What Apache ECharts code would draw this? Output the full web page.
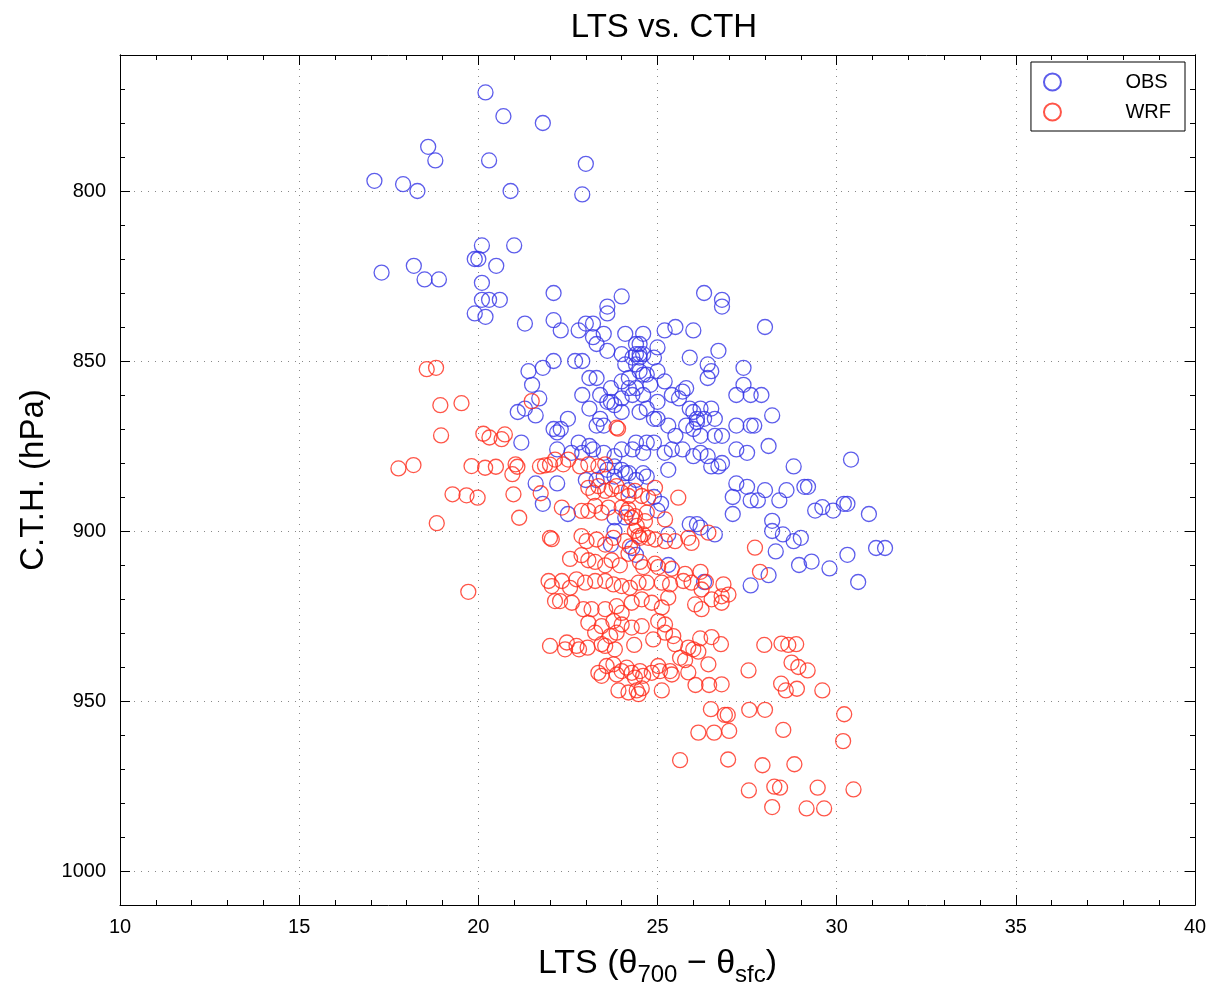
<!DOCTYPE html>
<html>
<head>
<meta charset="utf-8">
<title>LTS vs. CTH</title>
<script src="https://cdn.jsdelivr.net/npm/echarts@6/dist/echarts.min.js"></script>
<style>
  html, body { margin: 0; padding: 0; background: #fff; }
  #chart1 { width: 1213px; height: 982px; }
</style>
</head>
<body>
<div id="chart1"></div>
<script>
// OBS: LTS (K) and cloud top height (hPa)
var obsLts = [
  20.2, 20.7, 21.8, 18.6, 18.8, 20.3, 23.0, 17.1, 17.9, 18.3,
  20.9, 22.9, 20.1, 21.0, 19.9, 20.0, 17.3, 18.2, 18.5, 18.9,
  20.5, 20.1, 20.1, 20.3, 20.6, 19.9, 20.2, 21.3, 22.1, 22.1,
  21.4, 21.8, 22.1, 21.5, 21.7, 21.1, 21.3, 21.6, 22.1, 21.2,
  24.0, 26.3, 26.8, 26.8, 23.6, 23.6, 23.0, 23.2, 22.8, 22.3,
  23.2, 23.5, 23.3, 24.1, 24.6, 25.2, 25.5, 26.0, 24.4, 24.5,
  25.0, 23.6, 26.7, 24.4, 24.5, 24.6, 24.3, 24.5, 24.9, 24.0,
  25.9, 22.7, 22.9, 26.4, 26.5, 26.4, 27.4, 27.4, 27.6, 27.2,
  24.1, 24.4, 24.5, 24.6, 24.7, 25.0, 23.1, 23.3, 24.2, 24.0,
  25.2, 25.8, 25.7, 23.7, 23.4, 22.9, 24.2, 24.4, 24.8, 24.6,
  23.7, 23.8, 23.6, 24.0, 24.3, 25.4, 25.6, 25.9, 26.0, 26.2,
  26.5, 26.1, 26.6, 23.1, 23.4, 23.3, 23.5, 24.5, 24.7, 25.0,
  24.9, 25.0, 22.5, 22.3, 22.2, 24.0, 25.3, 25.5, 25.8, 26.0,
  26.1, 26.3, 26.2, 26.6, 26.8, 27.2, 27.6, 22.8, 23.1, 24.4,
  24.7, 24.9, 28.0, 27.9, 28.2, 27.7, 28.1, 22.2, 25.2, 25.4,
  25.7, 26.0, 26.2, 26.4, 26.5, 26.7, 26.8, 27.2, 27.5, 25.3,
  27.2, 27.5, 27.1, 27.1, 27.6, 25.9, 26.1, 26.2, 26.6, 25.3,
  25.3, 26.3, 27.6, 23.0, 23.3, 23.5, 23.8, 24.1, 24.2, 24.4,
  24.6, 24.7, 22.2, 23.6, 23.8, 24.0, 24.2, 24.9, 25.1, 25.0,
  22.5, 23.8, 24.1, 23.8, 23.7, 24.3, 24.4, 22.6, 22.9, 23.2,
  23.5, 23.8, 24.0, 24.3, 24.6, 21.6, 21.8, 30.4, 28.8, 28.0,
  28.6, 28.4, 29.1, 29.2, 27.8, 29.4, 29.6, 29.9, 30.2, 30.3,
  30.9, 28.2, 28.2, 28.5, 28.8, 29.0, 31.1, 31.35, 30.3, 28.3,
  28.95, 29.3, 29.8, 28.1, 30.6
];
var obsCth = [
  771, 778, 780, 787, 791, 791, 792, 797, 798, 800,
  800, 801, 816, 816, 820, 820, 824, 822, 826, 826,
  822, 827, 832, 832, 832, 836, 837, 839, 830, 838,
  853, 852, 850, 857, 861, 865, 864, 866, 870, 874,
  831, 830, 832, 834, 834, 836, 839, 839, 841, 841,
  843, 842, 845, 842, 842, 841, 840, 841, 845, 845,
  846, 847, 847, 848, 848, 848, 849, 849, 849, 848,
  849, 850, 850, 851, 853, 855, 852, 857, 860, 860,
  851, 851, 853, 854, 854, 853, 855, 855, 855, 856,
  856, 858, 859, 858, 860, 860, 858, 858, 857, 860,
  862, 863, 862, 861, 860, 860, 861, 864, 865, 864,
  864, 867, 867, 864, 867, 869, 869, 865, 864, 862,
  867, 867, 867, 870, 871, 865, 869, 872, 869, 870,
  868, 867, 872, 872, 872, 869, 869, 874, 875, 874,
  874, 874, 840, 860, 866, 869, 875, 876, 877, 876,
  876, 878, 877, 878, 881, 881, 880, 876, 877, 882,
  886, 887, 890, 895, 891, 898, 898, 899, 901, 901,
  910, 915, 916, 885, 885, 884, 884, 883, 883, 885,
  883, 884, 886, 882, 881, 882, 888, 890, 892, 894,
  895, 896, 896, 900, 904, 905, 907, 877, 877, 876,
  877, 878, 876, 876, 877, 886, 892, 879, 881, 888,
  888, 891, 887, 887, 891, 894, 893, 894, 892, 892,
  895, 897, 900, 901, 903, 902, 905, 905, 907, 906,
  910, 909, 911, 913, 915
];

// WRF
var wrfLts = [
  18.56, 18.82, 18.94, 19.53, 21.49, 18.96, 20.14, 20.31, 20.74, 20.65,
  17.77, 18.19, 19.81, 20.19, 20.49, 21.04, 21.09, 20.95, 21.72, 21.86,
  22.0, 21.74, 19.28, 19.67, 19.98, 20.98, 21.14, 18.84, 22.0, 22.05,
  19.72, 21.96, 22.05, 22.14, 22.0, 23.86, 23.9, 22.14, 22.37, 22.51,
  22.84, 23.07, 23.35, 23.54, 23.07, 23.21, 23.35, 23.54, 23.72, 23.86,
  24.0, 24.19, 24.37, 24.56, 24.74, 24.93, 25.58, 22.33, 22.88, 23.07,
  23.26, 23.44, 23.63, 24.0, 24.14, 24.28, 24.19, 24.37, 24.70, 24.65,
  25.21, 24.42, 24.37, 24.47, 24.51, 24.60, 22.88, 23.02, 23.30, 23.54,
  23.77, 24.09, 24.23, 24.74, 24.93, 25.21, 25.49, 25.86, 25.95, 26.42,
  22.56, 22.88, 23.07, 23.26, 23.54, 23.72, 23.95, 24.19, 24.51, 24.60,
  24.93, 25.02, 25.40, 25.77, 22.33, 22.56, 22.74, 22.98, 23.26, 23.54,
  23.77, 24.0, 24.23, 24.47, 24.70, 25.12, 25.35, 25.72, 25.95, 26.23,
  26.84, 26.98, 26.79, 26.2, 26.35, 22.28, 22.61, 22.93, 23.16, 23.54,
  23.86, 24.0, 24.28, 24.56, 24.84, 25.12, 25.30, 26.05, 26.23, 26.51,
  26.79, 23.07, 23.44, 23.77, 24.0, 24.28, 24.56, 25.02, 25.21, 22.47,
  22.42, 22.74, 22.81, 23.05, 23.26, 23.44, 23.54, 23.68, 23.86, 23.81,
  24.35, 24.88, 25.21, 25.44, 25.49, 25.86, 26.0, 26.14, 26.19, 26.51,
  26.77, 25.63, 25.77, 26.42, 23.35, 23.44, 23.58, 23.77, 23.86, 24.0,
  24.14, 24.28, 24.37, 24.51, 24.60, 24.84, 25.02, 25.07, 25.35, 25.40,
  25.86, 23.91, 24.19, 24.42, 24.47, 24.56, 25.12, 26.06, 26.44, 26.79,
  27.54, 26.49, 26.88, 26.96, 26.14, 26.58, 27.0, 25.63, 26.97, 27.56,
  27.55, 27.98, 28.46, 28.65, 28.87, 28.74, 28.93, 29.19, 28.45, 28.58,
  28.89, 29.6, 28.0, 30.21, 28.51, 30.18, 27.93, 28.82, 28.26, 28.42,
  29.47, 30.47, 28.20, 29.16, 29.65, 27.72, 27.86
];
var wrfCth = [
  852.4, 852, 863, 862.4, 861.8, 871.9, 871.4, 872.5, 871.6, 873,
  881.6, 880.6, 880.9, 881.4, 881.1, 880.4, 881.1, 883.3, 881, 880.7,
  880.5, 888.9, 889.2, 889.5, 890.2, 889.2, 896.1, 897.7, 902, 902.4,
  917.9, 914.7, 916.2, 920.6, 933.8, 869.6, 869.9, 879, 880.4, 879,
  881, 880.4, 881, 880.4, 887.3, 888.7, 886.8, 888.2, 887.7, 886.8,
  888.7, 889.7, 888.2, 889.7, 890.2, 887.3, 890.2, 893.1, 894.1, 894.1,
  892.6, 894.6, 893.1, 893.1, 894.6, 896.1, 893.6, 895.6, 894.6, 897.1,
  896.6, 898.5, 900, 901.5, 902, 901, 901.5, 903, 902.5, 904,
  902, 903, 904.5, 902, 902.5, 903, 903, 902, 903.5, 900.5,
  908.2, 907.1, 908.6, 909.1, 910.1, 908.6, 910.1, 906.7, 909.1, 910.6,
  909.6, 910.6, 911.1, 912.6, 914.7, 916.7, 914.2, 915.2, 914.7, 914.7,
  915.7, 916.2, 916.7, 915.2, 915.2, 915.2, 915.7, 914.7, 915.2, 917.2,
  915.7, 918.7, 919.2, 912, 915, 920.6, 921.1, 923, 923, 923,
  922.1, 924.1, 921.1, 920.1, 921.1, 922.5, 919.6, 921.6, 923, 920.1,
  921.1, 927, 928, 926.5, 927.5, 928.4, 928, 926.5, 927.5, 932.8,
  934.8, 933.8, 934.8, 934.3, 929.9, 933.3, 933.8, 930.9, 929.9, 934.8,
  933.5, 931.9, 929.9, 930.9, 933.3, 934.3, 934.8, 935.5, 931.6, 931.2,
  933.3, 937.3, 938, 939.2, 941.7, 942.6, 939.7, 939.2, 942.2, 941.2,
  940.2, 941.7, 943.1, 941.2, 942.6, 941.7, 939.7, 941.2, 941.2, 942.2,
  941.6, 946.9, 947.5, 946.9, 948, 946.3, 946.9, 945.3, 945.3, 945.1,
  941, 952.4, 954.1, 954.1, 959.3, 959.3, 958.8, 967.4, 967.2, 952.6,
  976.3, 933.5, 933.1, 933.5, 933.3, 938.7, 940, 941, 944.9, 946.9,
  946.4, 946.9, 952.6, 953.9, 958.5, 961.8, 968.9, 968.6, 975.2, 975.5,
  975.5, 976, 981.2, 981.6, 981.6, 904.9, 912
];

var yTicks = [800, 850, 900, 950, 1000];

function pairs(xs, ys) {
  var out = [];
  for (var i = 0; i < xs.length; i++) out.push([xs[i], ys[i]]);
  return out;
}

var myChart = echarts.init(document.getElementById('chart1'));
var font = 'Liberation Sans';
var black = '#000';

var xBase = {
  type: 'value', min: 10, max: 40, interval: 5,
  axisLine: { show: true, onZero: false, lineStyle: { color: black, width: 1 } },
  axisTick: { show: true, inside: true, length: 10, lineStyle: { color: black } },
  minorTick: { show: true, splitNumber: 5, length: 5, lineStyle: { color: black } }
};
var yBase = {
  type: 'value', inverse: true, min: 760, max: 1010,
  axisLine: { show: true, onZero: false, lineStyle: { color: black, width: 1 } }
};

var option = {
  animation: false,
  backgroundColor: '#fff',
  title: {
    text: 'LTS vs. CTH', left: 659, top: 6, textAlign: 'center',
    textStyle: { fontFamily: font, fontSize: 33, fontWeight: 'normal', color: black }
  },
  legend: {
    orient: 'vertical', right: 28, top: 62,
    data: ['OBS', 'WRF'],
    icon: 'circle',
    itemWidth: 20, itemHeight: 17, itemGap: 10,
    padding: [10, 14, 9, 12],
    borderColor: black, borderWidth: 1,
    textStyle: { fontFamily: font, fontSize: 20, color: black, padding: [0, 0, 0, 58] }
  },
  grid: { left: 120, right: 18, top: 55, bottom: 77, outerBoundsMode: 'none', containLabel: false },
  xAxis: [
    Object.assign({}, xBase, {
      position: 'bottom',
      name: 'LTS (θ{sub|700} − θ{sub|sfc})',
      nameLocation: 'middle', nameGap: 36,
      nameTextStyle: {
        fontFamily: font, fontSize: 34, color: black,
        rich: { sub: { fontFamily: font, fontSize: 24, color: black, padding: [22, 0, 0, 0] } }
      },
      axisLabel: { fontFamily: font, fontSize: 20, color: black, margin: 12 },
      splitLine: { show: true, lineStyle: { color: '#888', type: [1, 6], width: 1 } }
    }),
    Object.assign({}, xBase, {
      position: 'top',
      axisLabel: { show: false },
      splitLine: { show: false }
    })
  ],
  yAxis: [
    Object.assign({}, yBase, {
      position: 'left',
      name: 'C.T.H. (hPa)',
      nameLocation: 'middle', nameGap: 68, nameRotate: 90,
      nameTextStyle: { fontFamily: font, fontSize: 33, color: black },
      axisLabel: {
        customValues: yTicks, fontFamily: font, fontSize: 20, color: black, margin: 14,
        formatter: function (v) { return String(v); }
      },
      axisTick: { show: true, customValues: yTicks, inside: true, length: 10, lineStyle: { color: black } },
      splitLine: { show: true, lineStyle: { color: '#888', type: [1, 6], width: 1 } }
    }),
    Object.assign({}, yBase, {
      position: 'left', interval: 10,
      axisLabel: { show: false },
      axisTick: { show: true, inside: true, length: 5, lineStyle: { color: black } },
      splitLine: { show: false }
    }),
    Object.assign({}, yBase, {
      position: 'right',
      axisLabel: { show: false, customValues: yTicks },
      axisTick: { show: true, customValues: yTicks, inside: true, length: 10, lineStyle: { color: black } },
      splitLine: { show: false }
    }),
    Object.assign({}, yBase, {
      position: 'right', interval: 10,
      axisLabel: { show: false },
      axisTick: { show: true, inside: true, length: 5, lineStyle: { color: black } },
      splitLine: { show: false }
    })
  ],
  series: [
    {
      name: 'OBS', type: 'scatter', xAxisIndex: 0, yAxisIndex: 0,
      symbol: 'circle', symbolSize: 15,
      itemStyle: { color: 'rgba(0,0,0,0)', borderColor: '#3434e6', borderWidth: 1.3 },
      emphasis: { disabled: true },
      data: pairs(obsLts, obsCth)
    },
    {
      name: 'WRF', type: 'scatter', xAxisIndex: 0, yAxisIndex: 0,
      symbol: 'circle', symbolSize: 15,
      itemStyle: { color: 'rgba(0,0,0,0)', borderColor: '#ff2a1a', borderWidth: 1.3 },
      emphasis: { disabled: true },
      data: pairs(wrfLts, wrfCth)
    }
  ]
};
myChart.setOption(option);
</script>
</body>
</html>
